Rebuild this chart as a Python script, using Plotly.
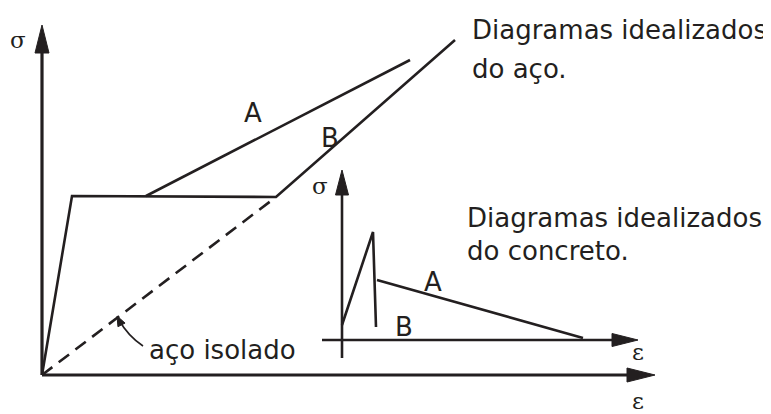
import plotly.graph_objects as go

# Diagram coordinates (page frame, y grows downward)
# Main steel diagram
main_origin = (42, 375)
main_sigma_tip = (42, 25)
main_eps_tip = (655, 375)
steel_B_x = [42, 72, 276, 455]
steel_B_y = [375, 196, 197, 40]
steel_A_x = [146, 410]
steel_A_y = [196, 60]
isolated_x = [42, 276]
isolated_y = [375, 197]

# Inset concrete diagram
inset_sigma_x = [342, 342]
inset_sigma_y = [358, 175]
inset_eps_x = [322, 620]
inset_eps_y = [340, 340]
concrete_B_x = [342, 373, 376]
concrete_B_y = [325, 232, 327]
concrete_A_x = [377, 583]
concrete_A_y = [280, 338]

INK = "#231f20"
fig = go.Figure()

def line(xs, ys, w=2.6, dash=None):
    fig.add_trace(go.Scatter(x=xs, y=ys, mode="lines",
                             line=dict(color=INK, width=w, dash=dash),
                             hoverinfo="skip", showlegend=False))

def arrow_head(tip, direction, length=26, half=6.5):
    tx, ty = tip
    dx, dy = direction
    bx, by = tx - dx * length, ty - dy * length
    px, py = -dy, dx
    xs = [tx, bx + px * half, bx - px * half, tx]
    ys = [ty, by + py * half, by - py * half, ty]
    fig.add_trace(go.Scatter(x=xs, y=ys, mode="lines", fill="toself",
                             fillcolor=INK, line=dict(color=INK, width=1),
                             hoverinfo="skip", showlegend=False))

# main axes
line([main_origin[0], main_sigma_tip[0]], [main_origin[1], main_sigma_tip[1] + 20], w=3.2)
line([main_origin[0], main_eps_tip[0] - 20], [main_origin[1], main_eps_tip[1]], w=3.2)
arrow_head(main_sigma_tip, (0, -1), length=28, half=7)
arrow_head(main_eps_tip, (1, 0), length=28, half=7)

# steel curves
line(steel_B_x, steel_B_y)
line(steel_A_x, steel_A_y)
line(isolated_x, isolated_y, dash="13px,8px")

# inset axes
line(inset_sigma_x, inset_sigma_y, w=2.6)
line(inset_eps_x, inset_eps_y, w=2.6)
arrow_head((342, 170), (0, -1), length=25, half=6.5)
arrow_head((638, 340), (1, 0), length=26, half=6.5)

# concrete curves
line(concrete_B_x, concrete_B_y)
line(concrete_A_x, concrete_A_y)

# leader for "aço isolado"
fig.add_shape(type="path", path="M 143,346 Q 128,336 119,320",
              line=dict(color=INK, width=1.6))
arrow_head((117, 316), (-0.45, -0.89), length=10, half=4)

TXT = dict(family="DejaVu Sans", size=26, color=INK)
LBL = dict(family="DejaVu Sans", size=26, color=INK)
SYM = dict(family="DejaVu Serif", size=23, color=INK)
anns = [
    dict(x=470, y=30, text="Diagramas idealizados", font=TXT, xanchor="left"),
    dict(x=470, y=69, text="do aço.", font=TXT, xanchor="left"),
    dict(x=465, y=218, text="Diagramas idealizados", font=TXT, xanchor="left"),
    dict(x=465, y=251, text="do concreto.", font=TXT, xanchor="left"),
    dict(x=147, y=350, text="aço isolado", font=TXT, xanchor="left"),
    dict(x=253, y=113, text="A", font=LBL, xanchor="center"),
    dict(x=330, y=138, text="B", font=LBL, xanchor="center"),
    dict(x=433, y=282, text="A", font=LBL, xanchor="center"),
    dict(x=404, y=327, text="B", font=LBL, xanchor="center"),
    dict(x=18, y=40, text="σ", font=SYM, xanchor="center"),
    dict(x=320, y=186, text="σ", font=SYM, xanchor="center"),
    dict(x=638, y=352, text="ε", font=SYM, xanchor="center"),
    dict(x=638, y=401, text="ε", font=SYM, xanchor="center"),
]
for a in anns:
    fig.add_annotation(xref="x", yref="y", showarrow=False, yanchor="middle", **a)

# The page body has an 8px default margin; size the figure and ranges so that
# data coordinates coincide with page pixels.
OFF = 8
fig.update_layout(
    width=771 - OFF, height=414 - OFF, margin=dict(l=0, r=0, t=0, b=0),
    paper_bgcolor="white", plot_bgcolor="white",
    xaxis=dict(range=[OFF, 771], visible=False, fixedrange=True),
    yaxis=dict(range=[414, OFF], visible=False, fixedrange=True),
)
fig.write_html("out.html")
